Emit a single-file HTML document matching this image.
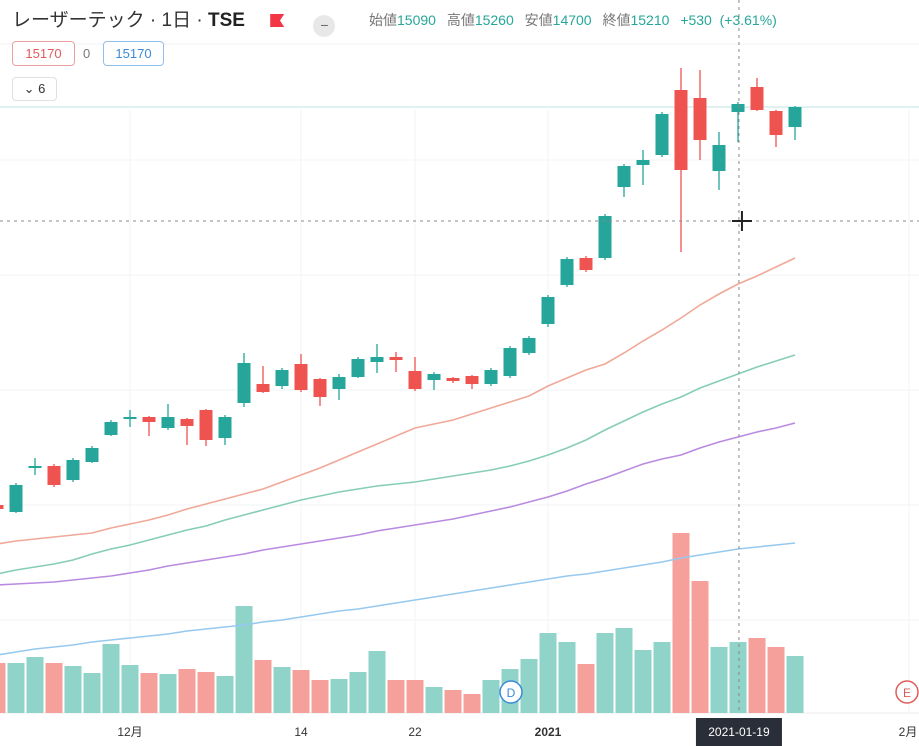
<!DOCTYPE html>
<html><head><meta charset="utf-8"><style>
body{margin:0;background:#fff;width:919px;height:746px;overflow:hidden;font-family:"Liberation Sans","Noto Sans CJK JP",sans-serif;}
#wrap{position:relative;width:919px;height:746px;}
svg{position:absolute;left:0;top:0;}
.hdr{position:absolute;left:12px;top:5px;font-size:19px;color:#333;white-space:nowrap;}
.ohlc{position:absolute;left:369px;top:10px;font-size:14px;color:#777;white-space:nowrap;word-spacing:4px;}
.ohlc b{font-weight:normal;color:#26a69a;margin-right:3px;word-spacing:0;}
.box{position:absolute;border:1px solid;border-radius:4px;font-size:13px;text-align:center;line-height:23px;background:#fff;}
</style></head><body>
<div id="wrap">
<svg id="chart" width="919" height="746"></svg>
<div class="hdr">レーザーテック · 1日 · <span style="font-weight:bold;color:#222">TSE</span>
<span style="display:inline-block;width:14px;height:13px;background:#f23645;margin-left:20px;vertical-align:-1px;clip-path:polygon(0 0,100% 0,70% 50%,100% 100%,0 100%);"></span>
<span style="display:inline-block;width:22px;height:22px;border-radius:50%;background:#e8e8e8;margin-left:24px;vertical-align:-4px;text-align:center;line-height:20px;font-size:14px;color:#666">−</span></div>
<div class="ohlc">始値<b>15090</b> 高値<b>15260</b> 安値<b>14700</b> 終値<b>15210</b> <b>+530&nbsp;&nbsp;(+3.61%)</b></div>
<div class="box" style="left:12px;top:41px;width:61px;height:23px;border-color:#e9a0a0;color:#e05a5a">15170</div>
<div style="position:absolute;left:83px;top:46px;font-size:13px;color:#777">0</div>
<div class="box" style="left:103px;top:41px;width:59px;height:23px;border-color:#90c0ea;color:#3a8ad8">15170</div>
<div class="box" style="left:12px;top:77px;width:43px;height:22px;border-color:#e0e0e0;color:#333;line-height:22px">⌄ 6</div>
</div>
<script>
const opens=[11190,11120,11560,11580,11440,11620,11890,12050,12070,11960,12050,12140,11860,12210,12400,12380,12600,12450,12350,12470,12620,12670,12530,12440,12460,12480,12400,12480,12710,13000,13390,13660,13660,14370,14590,14690,15340,15260,14530,15120,15370,15130,14970];
const highs=[11210,11410,11660,11600,11660,11780,12040,12140,12080,12200,12060,12150,12090,12710,12580,12560,12700,12460,12500,12670,12800,12720,12670,12520,12470,12490,12560,12780,12880,13290,13670,13680,14100,14600,14740,15120,15560,15540,14920,15220,15460,15140,15180];
const lows=[11130,11110,11490,11370,11420,11610,11880,11970,11880,11940,11790,11780,11790,12170,12310,12350,12320,12180,12240,12460,12510,12520,12330,12340,12410,12350,12380,12460,12690,12970,13370,13520,13640,14270,14390,14670,13720,14640,14340,14820,15130,14770,14840];
const closes=[11150,11390,11580,11390,11640,11760,12020,12070,12020,12070,11980,11840,12070,12610,12320,12540,12340,12270,12470,12650,12670,12640,12350,12500,12430,12400,12540,12760,12860,13270,13650,13540,14080,14580,14640,15100,14540,14840,14790,15200,15140,14890,15170];
const volumes=[250,250,280,250,235,200,345,240,200,195,220,205,185,535,265,230,215,165,170,205,310,165,165,130,115,95,165,220,270,400,355,245,400,425,315,355,900,660,330,355,375,330,285];
const ma1=[10800,10830,10850,10870,10890,10910,10960,11000,11040,11090,11150,11200,11250,11300,11350,11420,11490,11560,11640,11720,11800,11880,11960,12000,12040,12100,12160,12220,12280,12380,12460,12540,12600,12710,12830,12940,13060,13190,13300,13400,13480,13570,13660];
const ma2=[10500,10540,10570,10600,10640,10700,10750,10790,10840,10890,10940,10980,11040,11090,11140,11190,11240,11280,11320,11350,11380,11400,11420,11450,11480,11510,11540,11580,11630,11690,11760,11840,11940,12030,12120,12200,12270,12360,12430,12500,12570,12630,12690];
const ma3=[10390,10400,10410,10420,10440,10460,10480,10510,10540,10580,10610,10640,10670,10700,10740,10770,10800,10830,10860,10890,10930,10960,10990,11020,11050,11090,11130,11170,11220,11270,11330,11400,11460,11530,11600,11650,11690,11760,11820,11870,11920,11960,12010];
const ma4=[9690,9720,9750,9770,9790,9820,9840,9860,9880,9900,9930,9950,9970,9990,10020,10040,10070,10100,10130,10150,10180,10210,10240,10270,10300,10330,10360,10390,10420,10450,10480,10500,10530,10560,10590,10620,10660,10690,10720,10750,10770,10790,10810];
const xTickLabels=["12月","14","22","2021","2月"];
const xTickIdx=[7,16,22,29,48];
const lastPrice=15170;
const crossIdx=39.05, crossPrice=14030;

const NS="http://www.w3.org/2000/svg";
const svg=document.getElementById('chart');
const X=i=>-3+19*i;
const Y=p=>(16240-p)/10;
const VY=v=>713-v/5;
const GREEN="#26a69a",RED="#ef5350";
function mk(t,a){const e=document.createElementNS(NS,t);for(const k in a)e.setAttribute(k,a[k]);svg.appendChild(e);return e;}
[44,160,275,390,505,620].forEach(gy=>{const l=mk('line',{x1:0,x2:919,y1:gy,y2:gy,stroke:'#f0f3f6','stroke-width':1});

});
xTickIdx.forEach(i=>{const l=mk('line',{x1:X(i),x2:X(i),y1:110,y2:713,stroke:'#f0f3f6','stroke-width':1});

});
mk('line',{x1:0,x2:919,y1:713,y2:713,stroke:'#eee'});
volumes.forEach((v,i)=>{const up=closes[i]>=opens[i];
const r=mk('rect',{x:X(i)-8.5,y:VY(v),width:17,height:713-VY(v),fill:up?'#8fd3c9':'#f5a09b'});

});
[[ma4,'#96c9ef','ma-200-line'],[ma3,'#b98be0','ma-75-line'],[ma2,'#86cdb8','ma-50-line'],[ma1,'#f0a898','ma-25-line']].forEach(([a,c,n])=>{
const p=mk('polyline',{points:a.map((v,i)=>X(i)+','+Y(v)).join(' '),fill:'none',stroke:c,'stroke-width':1.6});

});
const pl=mk('line',{x1:0,x2:919,y1:Y(lastPrice),y2:Y(lastPrice),stroke:'#bfe3e0','stroke-width':1});


opens.forEach((o,i)=>{const c=closes[i],up=c>=o,col=up?GREEN:RED;const x=X(i);
const g=document.createElementNS(NS,'g');svg.appendChild(g);


const w=document.createElementNS(NS,'line');
w.setAttribute('x1',x);w.setAttribute('x2',x);w.setAttribute('y1',Y(highs[i]));w.setAttribute('y2',Y(lows[i]));w.setAttribute('stroke',col);w.setAttribute('stroke-width',1.3);g.appendChild(w);
const b=document.createElementNS(NS,'rect');const top=Y(Math.max(o,c));
b.setAttribute('x',x-6.5);b.setAttribute('y',top);b.setAttribute('width',13);b.setAttribute('height',Math.max(2,Math.abs(Y(o)-Y(c))));b.setAttribute('fill',col);g.appendChild(b);});
const cx=X(crossIdx),cy=Y(crossPrice);
const ch1=mk('line',{x1:cx,x2:cx,y1:0,y2:713,stroke:'#888','stroke-dasharray':'3 4','stroke-width':1});


const ch2=mk('line',{x1:0,x2:919,y1:cy,y2:cy,stroke:'#888','stroke-dasharray':'3 4','stroke-width':1});


const cur=mk('path',{d:`M${cx+3} ${cy-10}V${cy+10}M${cx-7} ${cy}H${cx+13}`,stroke:'#222','stroke-width':2});


xTickLabels.forEach((t,i)=>{const e=mk('text',{x:X(xTickIdx[i])+(i==4?-1:0),y:736,'font-size':12,'text-anchor':'middle',fill:'#333','font-weight':t=='2021'?'bold':'normal'});e.textContent=t;

});
const db=mk('rect',{x:cx-43,y:718,width:86,height:28,fill:'#2a2e39'});


const dt=mk('text',{x:cx,y:736,'font-size':12,'text-anchor':'middle',fill:'#fff'});dt.textContent='2021-01-19';


[[511,'D','#3a8ad8','dividend-marker'],[907,'E','#e05a5a','earnings-marker']].forEach(([x,t,c,n])=>{
const e=mk('circle',{cx:x,cy:692,r:11,fill:'#fff',stroke:c,'stroke-width':1.5});


const tx=mk('text',{x:x,y:697,'font-size':12,'text-anchor':'middle',fill:c});tx.textContent=t;

});
</script>
</body></html>
